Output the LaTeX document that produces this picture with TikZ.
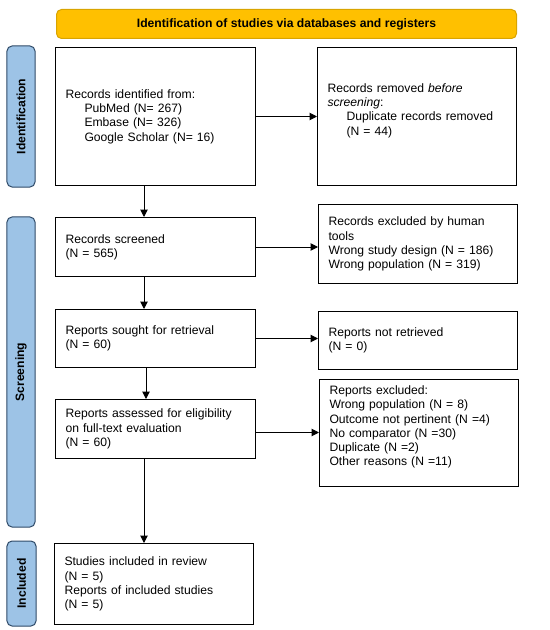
\documentclass[tikz,border=0pt]{standalone}
\usepackage{fontspec}
\setmainfont{Liberation Sans}
\usetikzlibrary{arrows.meta}
\definecolor{hdrfill}{HTML}{FFC000}
\definecolor{hdrdraw}{HTML}{D9A400}
\definecolor{sidefill}{HTML}{9DC3E6}
\definecolor{sidedraw}{HTML}{2F4A68}
\tikzset{
  box/.style={draw=black, line width=1bp, rectangle, inner xsep=10bp, inner ysep=0bp,
    align=left, font=\fontsize{12.2}{14.3}\selectfont, anchor=north west},
  hdr/.style={draw=hdrdraw, fill=hdrfill, line width=1bp, rounded corners=5bp,
    font=\bfseries\fontsize{12.2}{14.3}\selectfont, anchor=north west, inner sep=0bp},
  side/.style={draw=sidedraw, fill=sidefill, line width=1bp, rounded corners=5bp,
    font=\bfseries\fontsize{12.2}{14.3}\selectfont, rotate=90, inner sep=0bp},
  arr/.style={line width=1bp, -{Triangle[length=7.5bp,width=7.5bp]}}
}
\begin{document}
\begin{tikzpicture}[x=1bp,y=-1bp]
\useasboundingbox (0,0) rectangle (550,630);
% header
\node[hdr, minimum width=460bp, minimum height=29bp] (hdr) at (56,9)
  {Identification of studies via databases and registers};
% side bars
\node[side, minimum width=141bp, minimum height=28bp] (sid) at (21,116.5) {Identification};
\node[side, minimum width=310bp, minimum height=28bp] (sscr) at (21,372) {Screening};
\node[side, minimum width=85bp, minimum height=29bp] (sinc) at (21.5,583.5) {Included};
% boxes
\node[box, minimum width=200bp, minimum height=138bp, text width=180bp] (b1) at (55,47)
  {Records identified from:\\
  \hspace*{19bp}PubMed (N= 267)\\
  \hspace*{19bp}Embase (N= 326)\\
  \hspace*{19bp}Google Scholar (N= 16)};
\node[box, minimum width=199bp, minimum height=138bp, text width=179bp] (b2) at (317,47)
  {Records removed \textit{before}\\
  \textit{screening}:\\
  \hspace*{19bp}Duplicate records removed\\
  \hspace*{19bp}(N = 44)\\ \mbox{}};
\node[box, minimum width=200bp, minimum height=59bp, text width=180bp] (b3) at (55,217)
  {Records screened\\(N = 565)};
\node[box, minimum width=199bp, minimum height=79bp, text width=179bp] (b4) at (318,204)
  {Records excluded by human\\tools\\Wrong study design (N = 186)\\Wrong population (N = 319)};
\node[box, minimum width=200bp, minimum height=58bp, text width=180bp] (b5) at (55,309)
  {Reports sought for retrieval\\(N = 60)};
\node[box, minimum width=199bp, minimum height=58bp, text width=179bp] (b6) at (318,311)
  {Reports not retrieved\\(N = 0)};
\node[box, minimum width=200bp, minimum height=59bp, text width=180bp] (b7) at (55,399)
  {Reports assessed for eligibility\\on full-text evaluation\\(N = 60)};
\node[box, minimum width=199bp, minimum height=107bp, text width=179bp] (b8) at (319,379)
  {Reports excluded:\\Wrong population (N = 8)\\Outcome not pertinent (N =4)\\No comparator (N =30)\\Duplicate (N =2)\\Other reasons (N =11)\\ \mbox{}};
\node[box, minimum width=199bp, minimum height=81bp, text width=179bp] (b9) at (54,543)
  {Studies included in review\\(N = 5)\\Reports of included studies\\(N = 5)};
% arrows
\draw[arr] (b1.east) -- (b1.east -| b2.west);
\draw[arr] (b3.east) -- (b3.east -| b4.west);
\draw[arr] (b5.east) -- (b5.east -| b6.west);
\draw[arr] ([yshift=-3.5bp]b7.east) -- ([yshift=-3.5bp]b7.east -| b8.west);
\draw[arr] ([xshift=89bp]b1.south west) -- ([xshift=89bp]b1.south west |- b3.north);
\draw[arr] ([xshift=89bp]b3.south west) -- ([xshift=89bp]b3.south west |- b5.north);
\draw[arr] ([xshift=91bp]b5.south west) -- ([xshift=91bp]b5.south west |- b7.north);
\draw[arr] ([xshift=89bp]b7.south west) -- ([xshift=89bp]b7.south west |- b9.north);
\end{tikzpicture}
\end{document}
